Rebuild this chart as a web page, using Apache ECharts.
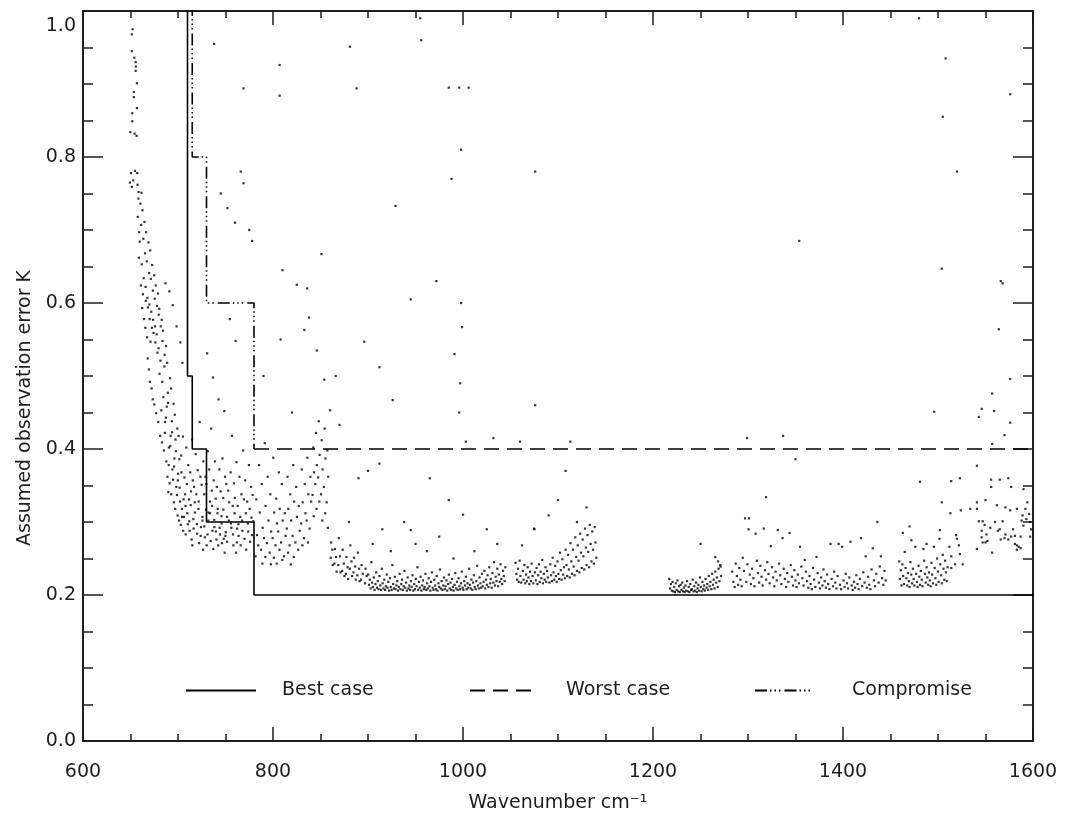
<!DOCTYPE html>
<html>
<head>
<meta charset="utf-8">
<script src="https://cdn.jsdelivr.net/npm/echarts@6/dist/echarts.min.js"></script>
<style>html,body{margin:0;padding:0;background:#fff}#chart{width:1066px;height:815px}</style>
</head>
<body>
<div id="chart"></div>
<script>
// ---------- axis settings ----------
const xRange = [600, 1600];
const yRange = [0, 1.0];
const xTickStep = 200;
const yTickStep = 0.2;

// ---------- step lines (wavenumber, error K) ----------
const bestCaseX = [710, 710, 715, 715, 730, 730, 780, 780, 1600];
const bestCaseY = [1.05, 0.5, 0.5, 0.4, 0.4, 0.3, 0.3, 0.2, 0.2];
const worstCaseX = [780, 1600];
const worstCaseY = [0.4, 0.4];
const compromiseX = [715, 715, 730, 730, 780, 780];
const compromiseY = [1.05, 0.8, 0.8, 0.6, 0.6, 0.4];

// ---------- scattered channel errors: pairs [wavenumber, error K] ----------
const edgeTopDots = [
  [652.2,0.975],[651.5,0.968],[651.5,0.945],[654,0.936],[655.4,0.93],[655.7,0.924],[655.4,0.918],
  [656.8,0.901],[653.6,0.889],[653.6,0.882],[656.8,0.867],[651.9,0.86],[651.9,0.849],[649.8,0.834],
  [654.3,0.832],[656.4,0.829],[650.5,0.778],[654.7,0.781],[657.1,0.778],[649.4,0.765],[652.9,0.768],
  [657.4,0.762],[651.5,0.759],[658.5,0.752],[661.6,0.751]
];
const edgeDots = [
  [658.3,0.743],[657.6,0.718],[659.1,0.697],[658.8,0.662],
  [660.4,0.736],[661.2,0.707],[659.7,0.684],[660.9,0.624],[662.3,0.593],
  [662.6,0.727],[663.5,0.688],[661.8,0.653],[663.1,0.612],[664.2,0.578],
  [664.7,0.711],[665.3,0.668],[663.9,0.634],[666.1,0.603],[665.6,0.566],
  [666.4,0.697],[667.2,0.657],[665.9,0.622],[668.3,0.594],[667.5,0.553],
  [668.9,0.683],[669.6,0.641],[667.8,0.607],[670.2,0.578],[668.1,0.524],[669.3,0.509],
  [670.7,0.672],[671.4,0.633],[669.9,0.598],[672.5,0.566],[671.1,0.547],[670.4,0.492],
  [672.8,0.652],[673.6,0.617],[671.9,0.588],[674.3,0.559],[672.2,0.483],[673.4,0.468],
  [674.9,0.638],[675.5,0.606],[673.8,0.577],[676.2,0.546],[675.1,0.461],
  [676.6,0.624],[677.8,0.596],[675.8,0.568],[678.4,0.532],[677.1,0.449],
  [678.9,0.613],[679.7,0.584],[677.5,0.557],[680.6,0.503],[679.2,0.437],
  [680.3,0.592],[681.8,0.568],[679.5,0.538],[682.4,0.453],[681.2,0.418],
  [682.9,0.577],[683.7,0.548],[681.5,0.521],[684.6,0.471],[683.1,0.409],
  [684.2,0.562],[685.9,0.529],[683.4,0.492],[686.3,0.437],[685.2,0.398],
  [686.8,0.627],[687.4,0.541],[685.6,0.513],[688.1,0.458],[686.1,0.422],[687.7,0.383],
  [688.6,0.518],[689.3,0.477],[687.2,0.443],[690.4,0.402],[688.9,0.362],[689.8,0.341],
  [690.9,0.616],[691.6,0.497],[689.5,0.463],[692.3,0.418],[690.2,0.378],[691.2,0.353],
  [692.7,0.483],[693.5,0.438],[691.9,0.404],[694.1,0.372],[692.9,0.338],
  [694.5,0.597],[695.3,0.462],[693.8,0.423],[696.2,0.387],[694.8,0.358],[695.7,0.327],
  [696.6,0.447],[697.4,0.413],[695.9,0.376],[698.2,0.348],[697.1,0.318],
  [698.5,0.568],[699.3,0.428],[697.8,0.397],[700.1,0.366],[698.9,0.337],[699.6,0.309],
  [700.6,0.418],[701.4,0.386],[699.9,0.357],[702.2,0.328],[701.1,0.302],
  [702.5,0.546],[703.3,0.391],[701.7,0.347],[704.1,0.318],[702.9,0.296],
  [704.6,0.518],[705.2,0.417],[703.6,0.368],[705.9,0.331],[704.3,0.307],[705.5,0.288]
];
const shoulderDots = [
  [706.8,0.361],[707.5,0.338],[706.2,0.307],[708.1,0.283],
  [708.7,0.402],[709.4,0.352],[707.9,0.322],[710.3,0.297],
  [710.8,0.378],[711.6,0.331],[709.8,0.312],[712.2,0.288],
  [712.9,0.368],[713.7,0.342],[711.9,0.301],[714.3,0.276],
  [714.8,0.413],[715.6,0.357],[713.4,0.323],[716.2,0.304],[715.1,0.268],
  [716.9,0.348],[717.7,0.327],[716.4,0.291],
  [718.6,0.393],[719.3,0.338],[717.8,0.313],[720.1,0.284],
  [720.7,0.371],[721.5,0.318],[719.9,0.297],[722.3,0.271],
  [722.8,0.437],[723.6,0.362],[721.8,0.328],[724.2,0.293],
  [724.9,0.351],[725.7,0.307],[723.9,0.281],[726.4,0.262],
  [726.8,0.383],[727.6,0.338],[725.8,0.302],[728.3,0.279],
  [728.9,0.362],[729.5,0.317],[727.7,0.294],[730.2,0.268],
  [730.7,0.531],[731.4,0.397],[729.8,0.352],[732.2,0.313],[731.1,0.283],
  [732.8,0.372],[733.6,0.328],[731.9,0.302],[734.3,0.274],
  [734.9,0.428],[735.6,0.343],[733.7,0.312],[736.2,0.288],
  [736.8,0.498],[737.6,0.357],[735.9,0.322],[738.3,0.293],[737.1,0.263],
  [738.9,0.383],[739.7,0.332],[738.1,0.303],[740.4,0.276],
  [740.8,0.348],[741.6,0.312],[739.9,0.287],[742.3,0.268],
  [742.7,0.468],[743.5,0.372],[741.8,0.318],[744.2,0.283],
  [744.9,0.342],[745.7,0.308],[743.8,0.292],[746.3,0.271],
  [746.8,0.387],[747.6,0.333],[745.9,0.298],[748.2,0.277],
  [748.7,0.452],[749.5,0.362],[747.7,0.317],[750.3,0.286],[749.1,0.258],
  [750.8,0.352],[751.6,0.307],[749.9,0.281],
  [752.8,0.343],[753.5,0.302],[751.7,0.273],
  [754.6,0.578],[755.4,0.368],[753.9,0.327],[756.2,0.292],
  [756.8,0.418],[757.6,0.322],[755.8,0.298],[758.3,0.268],
  [758.9,0.353],[759.6,0.312],[757.9,0.283],
  [760.7,0.548],[761.5,0.382],[759.8,0.333],[762.2,0.291],[761.1,0.258],
  [762.8,0.322],[763.6,0.297],[761.9,0.272],
  [764.7,0.362],[765.5,0.307],[763.8,0.281],
  [766.8,0.338],[767.4,0.302],[765.9,0.268],
  [768.6,0.398],[769.4,0.331],[767.8,0.288],
  [770.7,0.357],[771.5,0.312],[769.9,0.277],
  [772.8,0.328],[773.6,0.298],[771.8,0.262],
  [774.7,0.378],[775.5,0.318],[773.9,0.287],
  [776.8,0.348],[777.4,0.306],[775.9,0.273],
  [778.6,0.337],[779.3,0.301],[777.8,0.282]
];
const midDots = [
  [782.4,0.331],[783.2,0.282],[781.6,0.253],
  [785.3,0.378],[786.1,0.313],[784.5,0.268],
  [788.2,0.352],[789.1,0.292],[787.4,0.262],[788.8,0.243],
  [791.3,0.408],[792.2,0.322],[790.6,0.278],[791.9,0.252],
  [794.4,0.362],[795.2,0.302],[793.6,0.271],
  [797.2,0.338],[798.1,0.287],[796.5,0.258],[797.8,0.242],
  [800.3,0.388],[801.2,0.313],[799.6,0.278],[800.9,0.251],
  [803.4,0.332],[804.2,0.298],[802.6,0.268],[803.9,0.243],
  [806.2,0.368],[807.1,0.318],[805.5,0.287],[806.8,0.262],
  [809.3,0.352],[810.2,0.302],[808.5,0.272],[809.8,0.248],
  [812.4,0.312],[813.2,0.281],[811.6,0.253],
  [815.3,0.362],[816.1,0.318],[814.5,0.291],[815.8,0.258],
  [818.2,0.338],[819.1,0.302],[817.5,0.268],[818.8,0.242],
  [821.3,0.378],[822.2,0.328],[820.6,0.281],[821.9,0.252],
  [824.4,0.348],[825.2,0.307],[823.6,0.272],
  [827.2,0.322],[828.1,0.288],[826.5,0.262],
  [830.3,0.372],[831.2,0.327],[829.6,0.298],[830.9,0.268],
  [833.4,0.352],[834.2,0.312],[832.6,0.278],
  [836.2,0.388],[837.1,0.338],[835.5,0.302],[836.8,0.272],
  [839.3,0.362],[840.2,0.328],[838.5,0.291],
  [842.4,0.402],[843.2,0.368],[841.6,0.337],[842.9,0.308],
  [845.3,0.422],[846.1,0.378],[844.5,0.352],[845.8,0.318],
  [848.2,0.438],[849.1,0.392],[847.5,0.361],[848.8,0.328],
  [851.3,0.412],[852.2,0.372],[850.6,0.338],[851.9,0.302],
  [854.4,0.428],[855.2,0.387],[853.6,0.348],[854.9,0.312],
  [857.2,0.398],[858.1,0.362],[856.5,0.327],[857.8,0.292],
  [861.3,0.272],[862.4,0.262],[860.8,0.251],[862.9,0.241],
  [865.2,0.263],[866.4,0.252],[864.6,0.243],[866.9,0.232],
  [869.3,0.278],[870.5,0.253],[868.7,0.241],[871.1,0.231],
  [873.4,0.262],[874.6,0.243],[872.8,0.233],[875.2,0.226],
  [877.3,0.252],[878.5,0.238],[876.7,0.229],[879.1,0.222],
  [881.4,0.268],[882.6,0.246],[880.8,0.236],[883.2,0.226],
  [885.3,0.251],[886.5,0.239],[884.7,0.231],[887.1,0.221],
  [889.4,0.258],[890.6,0.236],[888.8,0.227],[891.2,0.219],
  [893.3,0.241],[894.5,0.229],[892.7,0.221],
  [897.4,0.236],[898.6,0.226],[896.8,0.216]
];
const bandDotsA = [
  [900.2,0.228],[901.1,0.214],[901.9,0.221],[902.8,0.209],[903.6,0.245],[904.3,0.217],[905.2,0.211],[906.1,0.224],
  [906.9,0.207],[907.8,0.215],[908.6,0.231],[909.4,0.210],[910.3,0.219],[911.2,0.208],[912.0,0.226],[912.9,0.213],
  [913.7,0.207],[914.6,0.236],[915.4,0.216],[916.3,0.209],[917.1,0.221],[918.0,0.207],[918.8,0.212],[919.7,0.228],
  [920.5,0.210],[921.4,0.218],[922.2,0.206],[923.1,0.223],[923.9,0.211],[924.8,0.207],[925.6,0.241],[926.5,0.215],
  [927.3,0.209],[928.2,0.225],[929.0,0.208],[929.9,0.213],[930.7,0.219],[931.6,0.206],[932.4,0.211],[933.3,0.229],
  [934.1,0.208],[935.0,0.215],[935.8,0.221],[936.7,0.207],[937.5,0.212],[938.4,0.233],[939.2,0.210],[940.1,0.217],
  [940.9,0.206],[941.8,0.224],[942.6,0.209],[943.5,0.213],[944.3,0.207],[945.2,0.219],[946.0,0.211],[946.9,0.227],
  [947.7,0.206],[948.6,0.215],[949.4,0.208],[950.3,0.222],[951.1,0.212],[952.0,0.238],[952.8,0.207],[953.7,0.218],
  [954.5,0.210],[955.4,0.225],[956.2,0.206],[957.1,0.213],[957.9,0.220],[958.8,0.208],[959.6,0.211],[960.5,0.229],
  [961.3,0.207],[962.2,0.216],[963.0,0.209],[963.9,0.223],[964.7,0.212],[965.6,0.206],[966.4,0.218],[967.3,0.231],
  [968.1,0.210],[969.0,0.207],[969.8,0.221],[970.7,0.213],[971.5,0.208],[972.4,0.226],[973.2,0.206],[974.1,0.216],
  [974.9,0.211],[975.8,0.235],[976.6,0.209],[977.5,0.219],[978.3,0.207],[979.2,0.213],[980.0,0.224],[980.9,0.208],
  [981.7,0.212],[982.6,0.220],[983.4,0.206],[984.3,0.215],[985.1,0.228],[986.0,0.209],[986.8,0.217],[987.7,0.207],
  [988.5,0.222],[989.4,0.211],[990.2,0.206],[991.1,0.214],[991.9,0.230],[992.8,0.209],[993.6,0.218],[994.5,0.207],
  [995.3,0.223],[996.2,0.212],[997.0,0.208],[997.9,0.216],[998.7,0.232],[999.6,0.210],[1000.4,0.207],[1001.3,0.219],
  [1002.1,0.213],[1003.0,0.225],[1003.8,0.208],[1004.7,0.216],[1005.5,0.210],[1006.4,0.236],[1007.2,0.214],[1008.1,0.209],
  [1008.9,0.221],[1009.8,0.207],[1010.6,0.217],[1011.5,0.227],[1012.3,0.211],[1013.2,0.208],[1014.0,0.219],[1014.9,0.240],
  [1015.7,0.213],[1016.6,0.209],[1017.4,0.224],[1018.3,0.216],[1019.1,0.210],[1020.0,0.229],[1020.8,0.212],[1021.7,0.218],
  [1022.5,0.233],[1023.4,0.209],[1024.2,0.221],[1025.1,0.214],[1025.9,0.227],[1026.8,0.211],[1027.6,0.238],[1028.5,0.216],
  [1029.3,0.222],[1030.2,0.210],[1031.0,0.230],[1031.9,0.217],[1032.7,0.245],[1033.6,0.213],[1034.4,0.225],[1035.3,0.219],
  [1036.1,0.236],[1037.0,0.212],[1037.8,0.228],[1038.7,0.218],[1039.5,0.242],[1040.4,0.222],[1041.2,0.215],[1042.1,0.233],
  [1042.9,0.226],[1043.8,0.219],[1044.6,0.238]
];
const bandDotsB = [
  [1055.3,0.244],[1056.2,0.229],[1057.0,0.221],[1057.9,0.236],[1058.7,0.218],[1059.6,0.247],[1060.4,0.226],[1061.3,0.217],
  [1062.1,0.268],[1063.0,0.233],[1063.8,0.221],[1064.7,0.241],[1065.5,0.216],[1066.4,0.228],[1067.2,0.219],[1068.1,0.238],
  [1068.9,0.224],[1069.8,0.215],[1070.6,0.232],[1071.5,0.219],[1072.3,0.243],[1073.2,0.226],[1074.0,0.216],[1074.9,0.291],
  [1075.7,0.231],[1076.6,0.220],[1077.4,0.237],[1078.3,0.215],[1079.1,0.227],[1080.0,0.242],[1080.8,0.218],[1081.7,0.232],
  [1082.5,0.223],[1083.4,0.248],[1084.2,0.216],[1085.1,0.229],[1085.9,0.221],[1086.8,0.238],[1087.6,0.218],[1088.5,0.233],
  [1089.3,0.224],[1090.2,0.309],[1091.0,0.217],[1091.9,0.242],[1092.7,0.227],[1093.6,0.219],[1094.4,0.251],[1095.3,0.231],
  [1096.1,0.221],[1097.0,0.240],[1097.8,0.226],[1098.7,0.218],[1099.5,0.246],[1100.4,0.229],[1101.2,0.222],[1102.1,0.258],
  [1102.9,0.234],[1103.8,0.221],[1104.6,0.249],[1105.5,0.228],[1106.3,0.238],[1107.2,0.223],[1108.0,0.262],[1108.9,0.241],
  [1109.7,0.226],[1110.6,0.255],[1111.4,0.235],[1112.3,0.224],[1113.1,0.271],[1114.0,0.246],[1114.8,0.229],[1115.7,0.262],
  [1116.5,0.239],[1117.4,0.227],[1118.2,0.279],[1119.1,0.252],[1119.9,0.233],[1120.8,0.268],[1121.6,0.247],[1122.5,0.231],
  [1123.3,0.284],[1124.2,0.258],[1125.0,0.237],[1125.9,0.276],[1126.7,0.253],[1127.6,0.235],[1128.4,0.291],[1129.3,0.265],
  [1130.1,0.241],[1131.0,0.282],[1131.8,0.259],[1132.7,0.238],[1133.5,0.296],[1134.4,0.270],[1135.2,0.246],[1136.1,0.287],
  [1136.9,0.262],[1137.8,0.243],[1138.6,0.293],[1139.5,0.272],[1140.3,0.251]
];
const bandDotsC = [
  [1217.2,0.222],[1218.0,0.209],[1218.9,0.215],[1219.7,0.206],[1220.6,0.218],[1221.4,0.205],[1222.3,0.211],[1223.1,0.204],
  [1224.0,0.216],[1224.8,0.207],[1225.7,0.220],[1226.5,0.205],[1227.4,0.212],[1228.2,0.204],[1229.1,0.214],[1229.9,0.207],
  [1230.8,0.217],[1231.6,0.205],[1232.5,0.210],[1233.3,0.204],[1234.2,0.213],[1235.0,0.206],[1235.9,0.219],[1236.7,0.205],
  [1237.6,0.211],[1238.4,0.204],[1239.3,0.215],[1240.1,0.207],[1241.0,0.208],[1241.8,0.221],[1242.7,0.205],[1243.5,0.212],
  [1244.4,0.206],[1245.2,0.217],[1246.1,0.204],[1246.9,0.209],[1247.8,0.214],[1248.6,0.206],[1249.5,0.224],[1250.3,0.211],
  [1251.2,0.205],[1252.0,0.218],[1252.9,0.208],[1253.7,0.213],[1254.6,0.206],[1255.4,0.222],[1256.3,0.210],[1257.1,0.215],
  [1258.0,0.207],[1258.8,0.226],[1259.7,0.212],[1260.5,0.218],[1261.4,0.208],[1262.2,0.229],[1263.1,0.214],[1263.9,0.221],
  [1264.8,0.209],[1265.6,0.232],[1266.5,0.217],[1267.3,0.224],[1268.2,0.211],[1269.0,0.236],[1269.9,0.219],[1270.7,0.241],
  [1271.6,0.226],[1250.0,0.270],[1265.5,0.252],[1268.5,0.246],[1271.2,0.239]
];
const bandDotsD = [
  [1283.4,0.232],[1284.6,0.218],[1285.9,0.211],[1287.1,0.243],[1288.3,0.226],[1289.6,0.214],[1290.8,0.237],[1292.0,0.221],
  [1293.3,0.212],[1294.5,0.251],[1295.7,0.233],[1296.9,0.305],[1298.2,0.218],[1299.4,0.242],[1300.6,0.290],[1301.9,0.228],
  [1303.1,0.215],[1304.3,0.236],[1305.6,0.223],[1306.8,0.212],[1308.0,0.284],[1309.3,0.247],[1310.5,0.230],[1311.7,0.217],
  [1313.0,0.240],[1314.2,0.225],[1315.4,0.213],[1316.6,0.291],[1317.9,0.234],[1319.1,0.221],[1320.3,0.245],[1321.6,0.229],
  [1322.8,0.216],[1324.0,0.267],[1325.3,0.238],[1326.5,0.224],[1327.7,0.212],[1329.0,0.232],[1330.2,0.220],[1331.4,0.289],
  [1332.7,0.243],[1333.9,0.227],[1335.1,0.215],[1336.4,0.278],[1337.6,0.236],[1338.8,0.222],[1340.1,0.211],[1341.3,0.230],
  [1342.5,0.218],[1343.8,0.285],[1345.0,0.241],[1346.2,0.225],[1347.4,0.213],[1348.7,0.234],[1349.9,0.220],[1351.1,0.211],
  [1352.4,0.228],[1353.6,0.216],[1354.8,0.266],[1356.1,0.239],[1357.3,0.223],[1358.5,0.213],[1359.8,0.248],[1361.0,0.232],
  [1362.2,0.219],[1363.5,0.210],[1364.7,0.226],[1365.9,0.215],[1367.2,0.208],[1368.4,0.237],[1369.6,0.221],[1370.9,0.211],
  [1372.1,0.252],[1373.3,0.230],[1374.6,0.217],[1375.8,0.209],[1377.0,0.224],[1378.3,0.213],[1379.5,0.235],[1380.7,0.219],
  [1382.0,0.210],[1383.2,0.228],[1384.4,0.215],[1385.7,0.208],[1386.9,0.270],[1388.1,0.222],[1389.4,0.212],[1390.6,0.232],
  [1391.8,0.217],[1393.1,0.209],[1394.3,0.226],[1395.5,0.270],[1396.8,0.214],[1398.0,0.208],[1399.2,0.266],[1400.5,0.220],
  [1401.7,0.211],[1402.9,0.229],[1404.2,0.216],[1405.4,0.209],[1406.6,0.224],[1407.9,0.273],[1409.1,0.213],[1410.3,0.207],
  [1411.6,0.218],[1412.8,0.210],[1414.0,0.227],[1415.3,0.215],[1416.5,0.208],[1417.7,0.222],[1419.0,0.278],[1420.2,0.212],
  [1421.4,0.231],[1422.7,0.217],[1423.9,0.253],[1425.1,0.210],[1426.4,0.225],[1427.6,0.214],[1428.8,0.208],[1430.1,0.235],
  [1431.3,0.264],[1432.5,0.220],[1433.8,0.212],[1435.0,0.229],[1436.2,0.300],[1437.5,0.217],[1438.7,0.239],[1439.9,0.253],
  [1441.2,0.223],[1442.4,0.214],[1443.6,0.233],[1444.9,0.220]
];
const bandDotsE = [
  [1459.2,0.246],[1459.9,0.222],[1460.8,0.234],[1461.6,0.213],[1462.5,0.242],[1463.3,0.226],[1464.2,0.215],[1465.0,0.259],
  [1465.9,0.237],[1466.7,0.223],[1467.6,0.213],[1468.4,0.230],[1469.3,0.219],[1470.1,0.211],[1471.0,0.245],[1471.8,0.228],
  [1472.7,0.216],[1473.5,0.236],[1474.4,0.222],[1475.2,0.213],[1476.1,0.266],[1476.9,0.229],[1477.8,0.218],[1478.6,0.211],
  [1479.5,0.240],[1480.3,0.225],[1481.2,0.214],[1482.0,0.233],[1482.9,0.221],[1483.7,0.212],[1484.6,0.263],[1485.4,0.247],
  [1486.3,0.229],[1487.1,0.217],[1488.0,0.238],[1488.8,0.224],[1489.7,0.214],[1490.5,0.231],[1491.4,0.220],[1492.2,0.212],
  [1493.1,0.244],[1493.9,0.228],[1494.8,0.216],[1495.6,0.266],[1496.5,0.237],[1497.3,0.223],[1498.2,0.214],[1499.0,0.250],
  [1499.9,0.232],[1500.7,0.218],[1501.6,0.277],[1502.4,0.242],[1503.3,0.227],[1504.1,0.216],[1505.0,0.255],[1505.8,0.236],
  [1506.7,0.221],[1507.5,0.247],[1508.4,0.231],[1509.2,0.219],[1510.1,0.238]
];
const tailDots = [
  [1463,0.285],[1470,0.294],[1472,0.275],[1488,0.27],[1502,0.289],[1512,0.266],[1514,0.253],[1519,0.282],
  [1520,0.277],[1522,0.268],[1523,0.256],[1526,0.242],[1518,0.242],[1514,0.237],
  [1541,0.377],[1556,0.358],[1565,0.358],[1574,0.36],[1481,0.355],[1514,0.356],[1523,0.36],[1556,0.348],
  [1577,0.348],[1590,0.345],[1504,0.327],[1541,0.327],[1541,0.318],[1550,0.33],[1513,0.312],[1524,0.316],
  [1534,0.318],[1562,0.323],[1571,0.32],[1583,0.318],[1576,0.316],[1594,0.327],[1592,0.318],[1596,0.311],
  [1589,0.309],[1543,0.301],[1547,0.301],[1549,0.296],[1546,0.288],[1546,0.279],[1551,0.283],[1555,0.292],
  [1563,0.288],[1565,0.29],[1568,0.301],[1570,0.278],[1566,0.276],[1579,0.29],[1581,0.281],[1574,0.276],
  [1547,0.272],[1552,0.274],[1550,0.272],[1571,0.283],[1581,0.27],[1583,0.268],[1585,0.266],[1587,0.264],
  [1583,0.262],[1587,0.28],[1577,0.28],[1597,0.28],[1597,0.30],[1590,0.295],[1588,0.302],[1593,0.304],
  [1541,0.263],[1557,0.258],[1598,0.29],[1560,0.30]
];
const outlierDots = [
  [738,0.955],[769,0.894],[766,0.78],[769,0.764],[745,0.75],[752,0.73],[760,0.71],[775,0.70],[778,0.685],
  [807,0.926],[807,0.884],[881,0.951],[888,0.894],[955,0.99],[956,0.96],[985,0.895],[996,0.895],[1006,0.895],
  [998,0.81],[988,0.77],[1076,0.78],[929,0.733],[851,0.667],[810,0.645],[825,0.625],[836,0.62],[833,0.563],
  [846,0.535],[854,0.495],[860,0.453],[870,0.433],[790,0.50],[808,0.55],[820,0.45],[838,0.58],[866,0.50],
  [972,0.63],[998,0.60],[945,0.605],[999,0.567],[991,0.53],[997,0.49],[996,0.45],[896,0.547],[912,0.512],
  [926,0.467],[945,0.289],[880,0.30],[890,0.36],[900,0.37],[912,0.38],[965,0.36],[985,0.33],[1003,0.41],
  [905,0.27],[915,0.29],[924,0.26],[938,0.30],[950,0.27],[962,0.26],[975,0.28],[990,0.25],[1000,0.31],
  [1012,0.26],[1025,0.29],[1036,0.27],[1032,0.415],[1076,0.46],[1060,0.41],[1108,0.37],[1113,0.41],
  [1075,0.29],[1100,0.33],[1120,0.30],[1130,0.32],
  [1299,0.415],[1337,0.418],[1350,0.386],[1319,0.334],[1301,0.305],[1354,0.685],[1504,0.647],[1566,0.63],
  [1568,0.627],[1564,0.564],[1576,0.496],[1557,0.476],[1546,0.455],[1543,0.444],[1559,0.452],[1496,0.451],
  [1576,0.436],[1570,0.419],[1557,0.407],[1576,0.886],[1480,0.99],[1508,0.935],[1505,0.855],[1520,0.78]
];

// ---------- build chart data ----------
function zipXY(xs, ys) { return xs.map((x, i) => [x, ys[i]]); }
const dots = [].concat(edgeTopDots, edgeDots, shoulderDots, midDots, bandDotsA, bandDotsB,
  bandDotsC, bandDotsD, bandDotsE, tailDots, outlierDots);

const FONT = 'DejaVu Sans';
const INK = '#1e1e1e';
const tickStyle = { color: INK, width: 1.5 };

function xAxisDef(pos, showLabels) {
  return {
    type: 'value', position: pos, min: xRange[0], max: xRange[1], interval: xTickStep,
    axisLine: { show: true, onZero: false, lineStyle: { color: INK, width: 2 } },
    axisTick: { show: true, inside: true, length: 14, lineStyle: tickStyle },
    minorTick: { show: true, splitNumber: 4, length: 7, lineStyle: tickStyle },
    splitLine: { show: false }, minorSplitLine: { show: false },
    axisLabel: { show: showLabels, margin: 22, fontFamily: FONT, fontSize: 19, color: INK,
      formatter: v => String(v) },
    name: showLabels ? 'Wavenumber cm\u207B\u00B9' : '',
    nameLocation: 'middle', nameGap: 53,
    nameTextStyle: { fontFamily: FONT, fontSize: 19, color: INK }
  };
}
function yAxisDef(pos, showLabels) {
  return {
    type: 'value', position: pos, min: yRange[0], max: yRange[1], interval: yTickStep,
    axisLine: { show: true, onZero: false, lineStyle: { color: INK, width: 2 } },
    axisTick: { show: true, inside: true, length: 20, lineStyle: tickStyle },
    minorTick: { show: true, splitNumber: 4, length: 10, lineStyle: tickStyle },
    splitLine: { show: false }, minorSplitLine: { show: false },
    axisLabel: { show: showLabels, margin: 7, fontFamily: FONT, fontSize: 19, color: INK,
      formatter: v => (v >= yRange[1] ? '{top|' + v.toFixed(1) + '}' : v.toFixed(1)),
      rich: { top: { fontFamily: FONT, fontSize: 19, color: INK, padding: [30, 0, 0, 0] } } },
    name: showLabels ? 'Assumed observation error K' : '',
    nameLocation: 'middle', nameGap: 45,
    nameTextStyle: { fontFamily: FONT, fontSize: 19, color: INK, padding: [0, 64, 0, 0] }
  };
}
function legendDef(name, left, width, pad) {
  return {
    data: [name], left: left, top: 676, itemWidth: width, itemHeight: 16,
    selectedMode: false,
    itemStyle: { opacity: 0, borderWidth: 0 },
    textStyle: { fontFamily: FONT, fontSize: 19, color: INK, padding: [0, 0, 0, pad] }
  };
}

const chart = echarts.init(document.getElementById('chart'), null, { renderer: 'canvas' });
chart.setOption({
  animation: false,
  backgroundColor: '#ffffff',
  grid: { left: 83, right: 33, top: 11, bottom: 74, containLabel: false, outerBoundsMode: 'none' },
  xAxis: [xAxisDef('bottom', true), xAxisDef('top', false)],
  yAxis: [yAxisDef('left', true), yAxisDef('right', false)],
  legend: [
    legendDef('Best case', 180, 70, 21),
    legendDef('Worst case', 464, 65, 26),
    legendDef('Compromise', 749, 59, 33)
  ],
  series: [
    {
      type: 'scatter', name: 'channels', data: dots, symbol: 'rect', symbolSize: 2.2,
      itemStyle: { color: '#000' }, z: 1, silent: true
    },
    {
      type: 'line', name: 'Best case', data: zipXY(bestCaseX, bestCaseY), symbol: 'none',
      itemStyle: { color: '#000' },
      lineStyle: { color: '#000', width: 1.6, type: 'solid' }, z: 3, clip: true
    },
    {
      type: 'line', name: 'Worst case', data: zipXY(worstCaseX, worstCaseY), symbol: 'none',
      itemStyle: { color: '#000' },
      lineStyle: { color: '#000', width: 1.6, type: [15, 8] }, z: 3, clip: true
    },
    {
      type: 'line', name: 'Compromise', data: zipXY(compromiseX, compromiseY), symbol: 'none',
      itemStyle: { color: '#000' },
      lineStyle: { color: '#000', width: 1.6, type: [12, 3, 1.5, 3, 1.5, 3, 1.5, 4] }, z: 3, clip: true
    }
  ]
});
</script>
</body>
</html>
